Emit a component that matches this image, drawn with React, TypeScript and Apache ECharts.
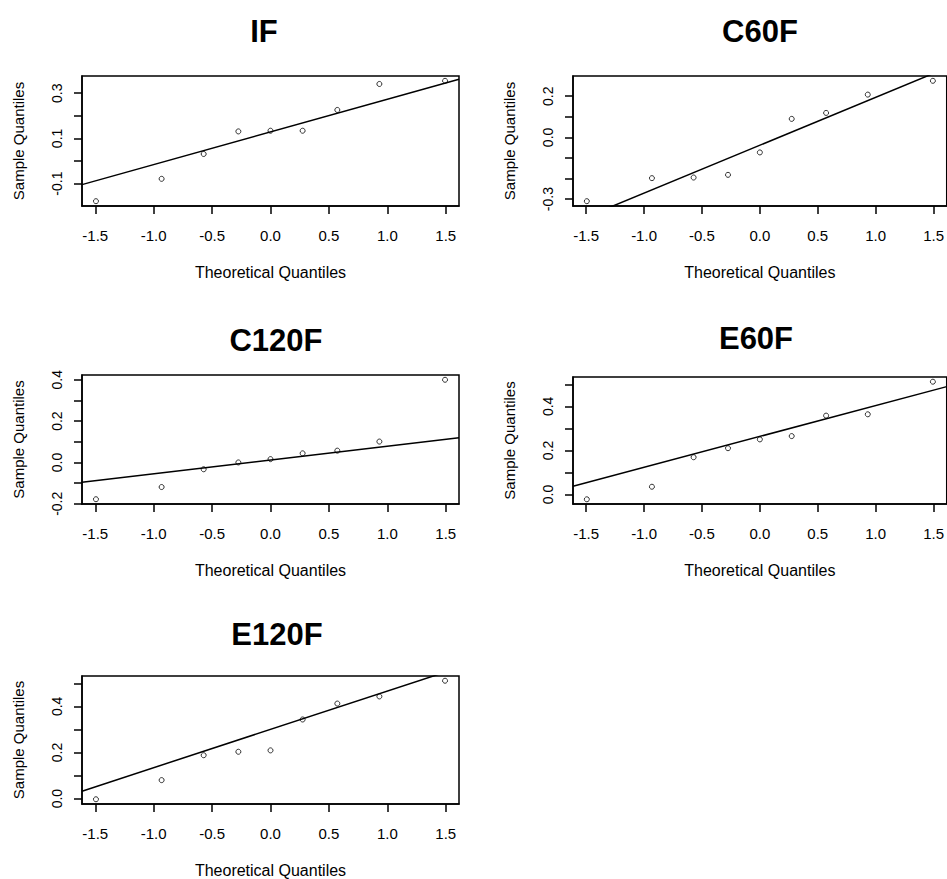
import React, { useEffect, useRef } from "react";
import * as echarts from "echarts";

// Theoretical normal quantiles (x positions of the points)
const theoreticalQ = [-1.494, -0.932, -0.572, -0.275, 0, 0.275, 0.572, 0.932, 1.494];

// Sample quantiles per panel
const sampleIF = [-0.178, -0.079, 0.031, 0.131, 0.134, 0.134, 0.226, 0.341, 0.355];
const sampleC60F = [-0.31, -0.198, -0.195, -0.182, -0.073, 0.09, 0.119, 0.208, 0.275];
const sampleC120F = [-0.178, -0.119, -0.033, 0.0, 0.016, 0.044, 0.057, 0.101, 0.4];
const sampleE60F = [-0.022, 0.035, 0.169, 0.21, 0.25, 0.265, 0.358, 0.364, 0.512];
const sampleE120F = [-0.003, 0.08, 0.188, 0.203, 0.209, 0.343, 0.412, 0.443, 0.511];

const panelTitles = ["IF", "C60F", "C120F", "E60F", "E120F"];

// Tick marks and labelled ticks
const xTicks = [-1.5, -1.0, -0.5, 0.0, 0.5, 1.0, 1.5];
const yTicksIF = [-0.1, 0.0, 0.1, 0.2, 0.3];
const yLabelsIF = [-0.1, 0.1, 0.3];
const yTicksC60F = [-0.3, -0.2, -0.1, 0.0, 0.1, 0.2];
const yLabelsC60F = [-0.3, 0.0, 0.2];
const yTicksC120F = [-0.2, -0.1, 0.0, 0.1, 0.2, 0.3, 0.4];
const yLabelsC120F = [-0.2, 0.0, 0.2, 0.4];
const yTicksE60F = [0.0, 0.1, 0.2, 0.3, 0.4, 0.5];
const yLabelsE60F = [0.0, 0.2, 0.4];
const yTicksE120F = [0.0, 0.1, 0.2, 0.3, 0.4, 0.5];
const yLabelsE120F = [0.0, 0.2, 0.4];

const FONT = "'Liberation Sans', Arial, sans-serif";

type Panel = {
  title: string;
  sample: number[];
  yTicks: number[];
  yLabels: number[];
  grid: { left: number; top: number; width: number; height: number };
  titlePos: [number, number];
};

const panels: Panel[] = [
  { title: panelTitles[0], sample: sampleIF, yTicks: yTicksIF, yLabels: yLabelsIF, grid: { left: 82, top: 76, width: 377, height: 130 }, titlePos: [264, 31] },
  { title: panelTitles[1], sample: sampleC60F, yTicks: yTicksC60F, yLabels: yLabelsC60F, grid: { left: 573, top: 76, width: 374, height: 130 }, titlePos: [760, 31] },
  { title: panelTitles[2], sample: sampleC120F, yTicks: yTicksC120F, yLabels: yLabelsC120F, grid: { left: 82, top: 375, width: 377, height: 129 }, titlePos: [276, 340] },
  { title: panelTitles[3], sample: sampleE60F, yTicks: yTicksE60F, yLabels: yLabelsE60F, grid: { left: 573, top: 377, width: 374, height: 127 }, titlePos: [756, 338] },
  { title: panelTitles[4], sample: sampleE120F, yTicks: yTicksE120F, yLabels: yLabelsE120F, grid: { left: 82, top: 676, width: 377, height: 128 }, titlePos: [277, 634] },
];

function quantile7(sorted: number[], p: number) {
  const h = (sorted.length - 1) * p;
  const lo = Math.floor(h);
  const hi = Math.ceil(h);
  return sorted[lo] + (h - lo) * (sorted[hi] - sorted[lo]);
}

function rRange(v: number[]): [number, number] {
  const mn = Math.min(...v);
  const mx = Math.max(...v);
  const r = mx - mn;
  return [mn - 0.04 * r, mx + 0.04 * r];
}

export default function App() {
  const ref = useRef<HTMLDivElement>(null);
  useEffect(() => {
    if (!ref.current) return;
    const chart = echarts.init(ref.current, undefined, { renderer: "svg" });
    const [xmin, xmax] = rRange(theoreticalQ);
    const z = 0.6744897501960817;

    const grids: any[] = [];
    const xAxes: any[] = [];
    const yAxes: any[] = [];
    const series: any[] = [];
    const graphics: any[] = [];

    panels.forEach((p, i) => {
      const [ymin, ymax] = rRange(p.sample);
      grids.push({
        ...p.grid,
        show: true,
        borderColor: "#000",
        borderWidth: 1.5,
        backgroundColor: "transparent",
        containLabel: false,
      });
      xAxes.push({
        type: "value",
        gridIndex: i,
        position: "bottom",
        min: xmin,
        max: xmax,
        splitLine: { show: false },
        axisLine: { show: true, onZero: false, lineStyle: { color: "#000", width: 1.5 } },
        axisTick: { show: true, length: 8, lineStyle: { color: "#000", width: 1.5 }, customValues: xTicks },
        axisLabel: {
          show: true,
          customValues: xTicks,
          formatter: (v: number) => v.toFixed(1),
          color: "#000",
          fontFamily: FONT,
          fontSize: 15,
          margin: 22,
        },
        name: "Theoretical Quantiles",
        nameLocation: "middle",
        nameGap: 58,
        nameTextStyle: { color: "#000", fontFamily: FONT, fontSize: 16 },
      });
      yAxes.push({
        type: "value",
        gridIndex: i,
        position: "left",
        min: ymin,
        max: ymax,
        splitLine: { show: false },
        axisLine: { show: true, onZero: false, lineStyle: { color: "#000", width: 1.5 } },
        axisTick: { show: true, length: 8, lineStyle: { color: "#000", width: 1.5 }, customValues: p.yTicks },
        axisLabel: {
          show: true,
          customValues: p.yLabels,
          formatter: (v: number) => v.toFixed(1),
          rotate: 90,
          color: "#000",
          fontFamily: FONT,
          fontSize: 14,
          margin: 18,
        },
        name: "Sample Quantiles",
        nameLocation: "middle",
        nameGap: 56,
        nameTextStyle: { color: "#000", fontFamily: FONT, fontSize: 15 },
      });
      series.push({
        type: "scatter",
        xAxisIndex: i,
        yAxisIndex: i,
        data: theoreticalQ.map((x, k) => [x, p.sample[k]]),
        symbol: "circle",
        symbolSize: 5,
        itemStyle: { color: "#fff", borderColor: "#000", borderWidth: 1 },
        silent: true,
      });
      // qqline through first and third quartiles
      const sorted = [...p.sample].sort((a, b) => a - b);
      const q1 = quantile7(sorted, 0.25);
      const q3 = quantile7(sorted, 0.75);
      const slope = (q3 - q1) / (2 * z);
      const intercept = q1 + slope * z;
      series.push({
        type: "line",
        xAxisIndex: i,
        yAxisIndex: i,
        data: [
          [xmin, intercept + slope * xmin],
          [xmax, intercept + slope * xmax],
        ],
        symbol: "none",
        clip: true,
        lineStyle: { color: "#000", width: 1.5 },
        silent: true,
      });
      graphics.push({
        type: "text",
        x: p.titlePos[0],
        y: p.titlePos[1],
        style: {
          text: p.title,
          align: "center",
          verticalAlign: "middle",
          font: `bold 31px ${FONT}`,
          fill: "#000",
        },
      });
    });

    chart.setOption({
      animation: false,
      backgroundColor: "#fff",
      grid: grids,
      xAxis: xAxes,
      yAxis: yAxes,
      series,
      graphic: graphics,
    });
    return () => chart.dispose();
  }, []);
  return (
    <div
      ref={ref}
      style={{ position: "fixed", left: 0, top: 0, width: 947, height: 879 }}
    />
  );
}
